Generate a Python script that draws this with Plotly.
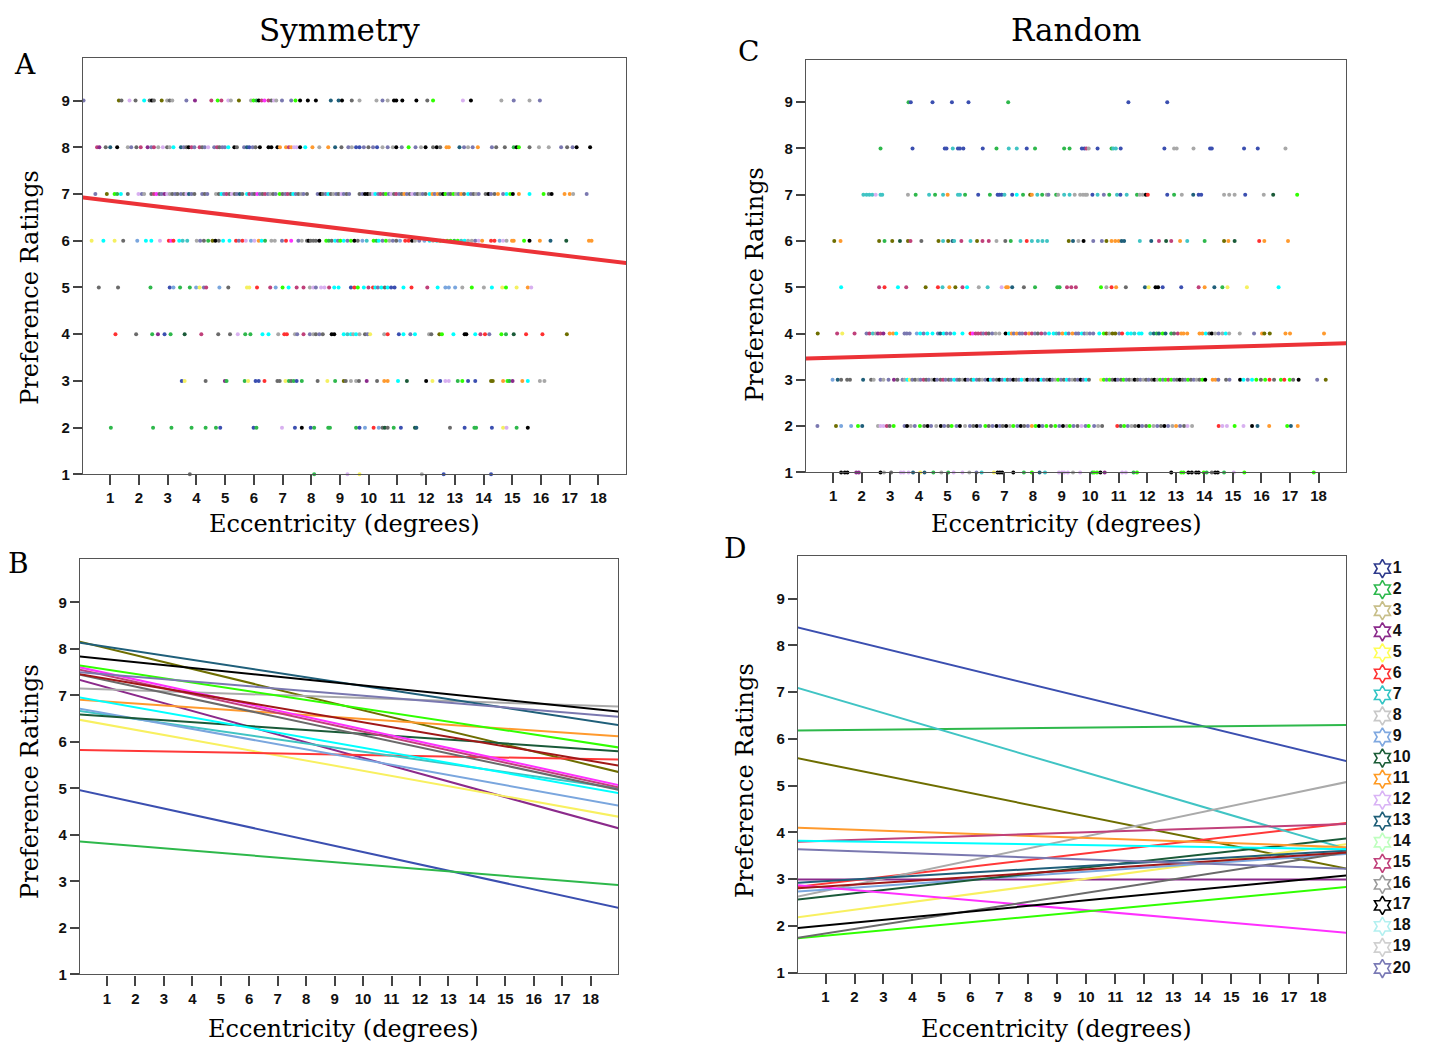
import plotly.graph_objects as go

IMG_W, IMG_H = 1432, 1053
PAD = 8                      # default page margin of the html body
W, H = IMG_W - 2 * PAD, IMG_H - 2 * PAD

# ---------------- data ----------------
subjects = [str(i) for i in range(1, 21)]
subject_rank = list(range(1, 21))
legend_colors = ['#2e3a8c', '#2db84d', '#c8bf8a', '#8b2a8b', '#ffff55', '#ff3333', '#33c4c4',
                 '#c8c8c8', '#7fa8e0', '#1a5c36', '#ff9a22', '#d9b3f5', '#1f5f78', '#bfffbf',
                 '#c0407a', '#9a9a9a', '#000000', '#b3f0f0', '#d0d0d0', '#7a7ab5']
line_colors = ['#3b4fb0', '#2eb84b', '#6e6e00', '#8b2a8b', '#f8f060', '#ff3838', '#40c4c4',
               '#aaaaaa', '#7aa6de', '#1a5a38', '#ff9a2e', '#ff30ff', '#1f5f7a', '#30ff00',
               '#c0407a', '#6a6a6a', '#000000', '#00ffff', '#a01818', '#7a78b0']

dot_palette = {'b': '#3b4fb0', 'g': '#2eb84b', 'o': '#6e6e00', 'p': '#8b2a8b', 'y': '#f5f060',
               'r': '#ff3030', 't': '#40c4c4', 'l': '#a8a8a8', 'L': '#7aa6de', 'd': '#1a5a38',
               'O': '#ff9a2e', 'v': '#d8b0f0', 'T': '#1f5f7a', 'G': '#30ff00', 'k': '#c0407a',
               'D': '#6a6a6a', 'K': '#000000', 'c': '#00ffff', 'm': '#ff30ff', 's': '#7a78b0'}

ecc_ticks = list(range(1, 19))
rating_ticks = list(range(1, 10))
fit_x = [0, 19]

# Per-subject regression lines: rating at left edge (0 deg) and right edge (19 deg)
B_start = [4.97, 3.86, 8.16, 7.34, 6.48, 5.83, 6.67, 7.15, 6.72, 6.59,
           6.91, 7.61, 8.14, 7.65, 7.56, 7.45, 7.84, 6.96, 7.46, 7.50]
B_end = [2.43, 2.92, 5.35, 4.14, 4.39, 5.62, 5.00, 6.76, 4.63, 5.80,
         6.12, 5.07, 6.36, 5.88, 5.02, 4.97, 6.65, 4.90, 5.49, 6.54]
D_start = [8.39, 6.18, 5.59, 2.99, 2.18, 2.83, 7.10, 2.62, 2.73, 2.56,
           4.10, 2.87, 2.92, 1.73, 3.80, 1.74, 1.95, 3.82, 2.80, 3.64]
D_end = [5.52, 6.30, 3.22, 2.99, 3.75, 4.20, 3.64, 5.08, 3.54, 3.87,
         3.68, 1.85, 3.61, 2.83, 4.18, 3.57, 3.08, 3.64, 3.57, 3.22]

# Overall regression lines
A_fit = [6.93, 5.52]
C_fit = [3.46, 3.79]

# Symmetry trials: (eccentricity, subject colour code) per rating level
A9 = [(0.07,'s'),(1.30,'o'),(1.39,'D'),(1.67,'v'),(1.88,'D'),(2.18,'c'),(2.37,'D'),(2.45,'K'),(2.52,'D'),(2.79,'o'),
      (2.98,'l'),(3.07,'D'),(3.16,'l'),(3.65,'s'),(3.95,'p'),(4.52,'k'),(4.74,'G'),(4.87,'k'),(5.11,'v'),(5.20,'l'),
      (5.48,'o'),(5.90,'l'),(5.99,'G'),(6.09,'g'),(6.17,'K'),(6.27,'k'),(6.37,'m'),(6.51,'k'),(6.61,'D'),(6.70,'v'),
      (6.78,'l'),(6.98,'s'),(7.30,'s'),(7.45,'G'),(7.61,'K'),(7.88,'K'),(8.16,'K'),(8.68,'T'),(8.95,'T'),(9.07,'K'),
      (9.41,'D'),(9.68,'l'),(10.27,'l'),(10.48,'s'),(10.66,'l'),(10.88,'K'),(10.96,'K'),(11.17,'K'),(11.66,'K'),
      (12.04,'D'),(12.24,'G'),(13.28,'v'),(13.56,'K'),(14.62,'l'),(15.05,'s'),(15.60,'l'),(15.96,'s')]
A8 = [(0.54,'k'),(0.62,'p'),(0.84,'D'),(1.00,'T'),(1.24,'K'),(1.61,'l'),(1.73,'s'),(1.91,'D'),(2.06,'k'),(2.30,'p'),
      (2.43,'s'),(2.52,'k'),(2.67,'l'),(2.83,'v'),(2.98,'D'),(3.07,'l'),(3.20,'c'),(3.46,'T'),(3.56,'s'),(3.65,'D'),
      (3.73,'K'),(3.83,'k'),(3.93,'s'),(4.11,'k'),(4.20,'D'),(4.29,'s'),(4.41,'v'),(4.62,'s'),(4.72,'k'),(4.80,'D'),
      (4.90,'s'),(4.99,'s'),(5.11,'c'),(5.32,'K'),(5.41,'D'),(5.66,'s'),(5.76,'T'),(5.84,'b'),(5.96,'s'),(6.06,'D'),
      (6.21,'K'),(6.51,'K'),(6.61,'K'),(6.82,'K'),(6.91,'O'),(7.12,'O'),(7.22,'k'),(7.30,'O'),(7.40,'v'),(7.49,'v'),
      (7.61,'K'),(7.79,'c'),(8.04,'O'),(8.28,'l'),(8.59,'O'),(8.83,'T'),(9.05,'D'),(9.29,'s'),(9.41,'l'),(9.56,'b'),
      (9.68,'b'),(9.83,'s'),(9.99,'D'),(10.15,'s'),(10.29,'b'),(10.48,'l'),(10.66,'s'),(10.84,'l'),(10.96,'K'),(11.15,'s'),
      (11.39,'G'),(11.63,'s'),(11.82,'l'),(11.98,'K'),(12.24,'D'),(12.37,'K'),(12.49,'D'),(12.71,'O'),(12.79,'O'),(13.16,'T'),
      (13.32,'s'),(13.46,'l'),(13.62,'s'),(13.80,'O'),(14.29,'s'),(14.44,'D'),(14.74,'D'),(15.05,'g'),(15.15,'K'),(15.23,'G'),
      (15.60,'D'),(15.93,'l'),(16.27,'l'),(16.70,'s'),(16.91,'D'),(17.10,'s'),(17.24,'K'),(17.71,'K')]
A7 = [(0.48,'s'),(0.88,'o'),(1.15,'G'),(1.24,'g'),(1.37,'c'),(1.61,'D'),(1.98,'v'),(2.10,'s'),(2.18,'l'),
      (2.43,'D'),(2.52,'k'),(2.61,'m'),(2.71,'D'),(2.79,'s'),(2.89,'p'),(2.98,'v'),(3.07,'l'),(3.16,'D'),(3.26,'s'),
      (3.34,'D'),(3.46,'s'),(3.56,'D'),(3.65,'v'),(3.74,'T'),(3.83,'s'),(3.93,'D'),(4.20,'s'),(4.29,'D'),(4.38,'s'),
      (4.68,'l'),(4.78,'D'),(4.87,'c'),(4.96,'s'),(5.05,'k'),(5.15,'D'),(5.23,'v'),(5.33,'D'),(5.41,'s'),(5.51,'T'),
      (5.60,'D'),(5.76,'c'),(5.84,'k'),(5.94,'s'),(6.02,'D'),(6.12,'m'),(6.21,'s'),(6.30,'D'),(6.39,'k'),(6.49,'s'),
      (6.57,'l'),(6.67,'D'),(6.76,'s'),(6.90,'G'),(7.00,'D'),(7.10,'s'),(7.18,'k'),(7.28,'D'),(7.37,'c'),(7.46,'s'),
      (7.55,'D'),(7.65,'l'),(7.73,'s'),(7.85,'D'),(8.22,'s'),(8.32,'K'),(8.40,'D'),(8.50,'s'),(8.59,'c'),(8.68,'D'),
      (8.77,'l'),(8.87,'s'),(8.95,'D'),(9.05,'v'),(9.13,'s'),(9.23,'D'),(9.32,'s'),(9.68,'D'),(9.78,'s'),(9.87,'K'),
      (9.96,'K'),(10.05,'D'),(10.15,'v'),(10.23,'c'),(10.33,'s'),(10.41,'k'),(10.51,'D'),(10.60,'G'),(10.70,'s'),(10.78,'v'),
      (10.88,'D'),(10.96,'k'),(11.06,'s'),(11.15,'D'),(11.24,'O'),(11.33,'s'),(11.43,'D'),(11.51,'v'),(11.61,'s'),(11.70,'D'),
      (11.79,'l'),(11.88,'s'),(11.98,'D'),(12.12,'c'),(12.22,'O'),(12.30,'s'),(12.40,'O'),(12.49,'D'),(12.59,'K'),(12.67,'G'),
      (12.77,'s'),(12.85,'D'),(12.95,'G'),(13.04,'l'),(13.13,'s'),(13.22,'O'),(13.32,'D'),(13.46,'c'),(13.56,'s'),(13.65,'D'),
      (13.74,'l'),(13.83,'s'),(14.07,'D'),(14.17,'K'),(14.26,'s'),(14.38,'D'),(14.50,'O'),(14.68,'s'),(14.80,'c'),(14.93,'G'),
      (15.02,'K'),(15.23,'O'),(15.60,'c'),(16.09,'G'),(16.27,'D'),(16.37,'K'),(16.82,'O'),(17.00,'O'),(17.12,'l'),(17.59,'s')]
A6 = [(0.35,'y'),(0.76,'c'),(1.15,'y'),(1.45,'D'),(1.94,'L'),(2.24,'c'),(2.43,'c'),(2.73,'v'),(3.04,'r'),(3.12,'m'),
      (3.20,'r'),(3.40,'c'),(3.52,'t'),(3.68,'t'),(4.01,'l'),(4.13,'s'),(4.26,'D'),(4.41,'g'),(4.56,'o'),(4.66,'K'),
      (4.78,'D'),(4.93,'c'),(5.15,'c'),(5.38,'r'),(5.48,'s'),(5.60,'r'),(5.72,'v'),(5.90,'L'),(6.02,'v'),(6.17,'O'),
      (6.27,'c'),(6.39,'g'),(6.61,'l'),(6.73,'l'),(6.98,'s'),(7.12,'r'),(7.30,'m'),(7.55,'s'),(7.67,'l'),(7.85,'D'),
      (7.91,'K'),(7.98,'D'),(8.07,'D'),(8.16,'D'),(8.28,'K'),(8.52,'G'),(8.61,'g'),(8.71,'D'),(8.83,'c'),(8.93,'s'),
      (9.01,'G'),(9.13,'c'),(9.26,'s'),(9.38,'G'),(9.50,'K'),(9.62,'D'),(9.78,'L'),(9.93,'t'),(10.17,'G'),(10.27,'g'),
      (10.35,'c'),(10.48,'s'),(10.60,'G'),(10.72,'l'),(10.84,'s'),(10.96,'D'),(11.09,'L'),(11.27,'r'),(11.39,'r'),(11.51,'K'),
      (11.61,'l'),(11.76,'s'),(11.94,'L'),(12.12,'c'),(12.24,'l'),(12.37,'c'),(12.49,'G'),(12.61,'l'),(12.73,'G'),(12.85,'G'),
      (12.98,'g'),(13.10,'G'),(13.22,'t'),(13.34,'c'),(13.46,'l'),(13.59,'l'),(13.71,'s'),(13.83,'v'),(13.95,'O'),(14.26,'r'),
      (14.38,'r'),(14.56,'L'),(14.68,'v'),(14.80,'l'),(14.99,'O'),(15.05,'O'),(15.41,'G'),(15.60,'K'),(15.96,'O'),(16.33,'T'),
      (16.88,'d'),(17.67,'O'),(17.76,'O')]
A5 = [(0.60,'D'),(1.27,'D'),(2.40,'g'),(3.07,'b'),(3.20,'L'),(3.43,'g'),(3.77,'g'),(3.99,'L'),(4.11,'y'),(4.26,'s'),
      (4.34,'k'),(4.80,'L'),(5.11,'D'),(5.76,'y'),(5.84,'y'),(6.11,'r'),(6.57,'k'),(6.76,'L'),(7.00,'G'),(7.21,'c'),
      (7.49,'k'),(7.73,'k'),(7.95,'l'),(8.07,'v'),(8.16,'s'),(8.34,'v'),(8.46,'v'),(8.62,'k'),(8.80,'c'),(8.95,'c'),
      (9.38,'b'),(9.50,'r'),(9.62,'G'),(9.83,'c'),(9.99,'k'),(10.15,'r'),(10.23,'c'),(10.32,'s'),(10.44,'c'),(10.56,'D'),
      (10.66,'c'),(10.78,'b'),(10.90,'b'),(11.21,'c'),(11.49,'r'),(12.04,'k'),(12.40,'c'),(12.67,'L'),(12.79,'L'),(13.01,'L'),
      (13.26,'l'),(13.59,'G'),(14.01,'l'),(14.29,'c'),(14.65,'y'),(14.78,'G'),(15.15,'y'),(15.54,'O'),(15.66,'v')]
A4 = [(1.18,'r'),(1.90,'D'),(2.46,'g'),(2.66,'p'),(2.89,'b'),(3.10,'g'),(3.59,'d'),(4.17,'k'),(4.76,'D'),(5.17,'D'),
      (5.44,'v'),(5.70,'g'),(5.88,'g'),(6.30,'c'),(6.51,'c'),(6.85,'l'),(7.06,'r'),(7.15,'r'),(7.43,'l'),(7.51,'s'),
      (7.73,'k'),(7.95,'s'),(8.07,'l'),(8.16,'D'),(8.28,'s'),(8.40,'D'),(8.71,'K'),(8.80,'K'),(9.13,'c'),(9.26,'t'),
      (9.38,'c'),(9.46,'l'),(9.56,'c'),(9.68,'l'),(9.87,'D'),(9.96,'s'),(10.05,'y'),(10.54,'l'),(10.66,'r'),(11.05,'b'),
      (11.21,'c'),(11.45,'s'),(11.61,'c'),(12.10,'l'),(12.18,'D'),(12.46,'o'),(12.55,'G'),(12.95,'c'),(13.34,'K'),(13.40,'K'),
      (13.71,'c'),(13.89,'k'),(14.05,'r'),(14.20,'s'),(14.62,'G'),(14.78,'g'),(15.05,'d'),(15.48,'r'),(16.05,'r'),(16.90,'o')]
A3 = [(3.49,'b'),(3.59,'y'),(4.32,'D'),(4.99,'p'),(5.05,'g'),(5.68,'g'),(5.80,'y'),(6.06,'b'),(6.17,'b'),(6.37,'r'),
      (6.82,'D'),(6.90,'D'),(7.10,'y'),(7.22,'g'),(7.30,'D'),(7.39,'g'),(7.49,'b'),(7.67,'g'),(8.22,'D'),(8.56,'y'),
      (8.83,'g'),(9.13,'o'),(9.20,'D'),(9.38,'l'),(9.56,'l'),(9.66,'D'),(9.93,'p'),(10.29,'D'),(10.54,'O'),(10.66,'O'),
      (11.02,'c'),(11.33,'d'),(12.00,'K'),(12.22,'y'),(12.49,'b'),(12.67,'v'),(12.79,'v'),(13.10,'g'),(13.26,'G'),(13.46,'b'),
      (13.71,'b'),(14.26,'o'),(14.32,'o'),(14.68,'O'),(14.83,'G'),(14.90,'g'),(15.01,'p'),(15.35,'O'),(15.54,'c'),(15.96,'l'),
      (16.12,'l')]
A2 = [(1.02,'g'),(2.49,'g'),(3.13,'g'),(3.83,'g'),(4.32,'g'),(4.68,'g'),(4.83,'b'),(5.99,'b'),(6.09,'g'),(6.98,'v'),
      (7.43,'b'),(7.67,'K'),(7.98,'b'),(8.10,'g'),(8.59,'g'),(8.65,'g'),(9.56,'g'),(9.68,'b'),(9.87,'L'),(10.17,'r'),
      (10.35,'L'),(10.48,'D'),(10.56,'d'),(10.66,'D'),(10.87,'g'),(11.12,'b'),(11.61,'d'),(11.66,'T'),(12.83,'D'),(13.34,'b'),
      (13.68,'g'),(13.74,'g'),(14.29,'b'),(14.68,'y'),(14.80,'v'),(15.15,'g'),(15.54,'K')]
A1 = [(3.77,'D'),(8.10,'g'),(9.26,'v'),(9.68,'y'),(11.85,'l'),(12.61,'b'),(14.26,'b')]

# Random trials
C9 = [(3.64,'g'),(3.72,'b'),(4.48,'b'),(5.16,'b'),(5.74,'b'),(7.13,'g'),(11.34,'b'),(12.70,'b')]
C8 = [(2.66,'g'),(3.78,'b'),(4.91,'b'),(4.97,'b'),(5.19,'t'),(5.37,'b'),(5.44,'b'),(5.56,'b'),(6.24,'b'),(6.72,'g'),
      (7.15,'t'),(7.43,'t'),(7.78,'b'),(8.07,'g'),(9.09,'g'),(9.28,'g'),(9.71,'b'),(9.80,'b'),(9.87,'k'),(9.95,'l'),
      (10.26,'b'),(10.75,'g'),(10.81,'t'),(10.90,'t'),(11.07,'b'),(12.60,'b'),(12.94,'l'),(13.03,'l'),(13.62,'l'),(14.20,'b'),
      (14.26,'b'),(15.39,'b'),(15.87,'b'),(16.84,'l')]
C7 = [(2.06,'t'),(2.17,'t'),(2.27,'t'),(2.37,'t'),(2.49,'v'),(2.66,'t'),(2.72,'t'),(3.62,'l'),(3.89,'g'),(4.36,'t'),
      (4.57,'g'),(4.85,'t'),(5.01,'O'),(5.37,'t'),(5.44,'t'),(5.62,'g'),(6.08,'b'),(6.49,'g'),(6.76,'b'),(6.82,'b'),
      (6.90,'b'),(7.00,'t'),(7.27,'b'),(7.43,'c'),(7.65,'g'),(7.90,'o'),(7.96,'O'),(8.15,'t'),(8.32,'g'),(8.48,'l'),
      (8.54,'s'),(8.81,'g'),(8.88,'l'),(9.09,'t'),(9.28,'t'),(9.46,'l'),(9.65,'l'),(9.75,'l'),(9.83,'l'),(9.89,'l'),
      (10.08,'b'),(10.26,'t'),(10.48,'s'),(10.67,'g'),(10.94,'t'),(11.06,'b'),(11.28,'t'),(11.64,'g'),(11.74,'l'),(11.84,'l'),
      (11.95,'K'),(12.02,'r'),(12.70,'b'),(12.94,'g'),(13.21,'l'),(13.61,'T'),(13.80,'b'),(13.89,'b'),(14.69,'l'),(14.87,'l'),
      (15.06,'l'),(15.43,'b'),(16.08,'l'),(16.41,'d'),(17.25,'G')]
C6 = [(1.04,'o'),(1.26,'O'),(2.61,'o'),(2.80,'g'),(3.07,'o'),(3.34,'d'),(3.62,'o'),(3.71,'k'),(4.09,'D'),(4.69,'o'),
      (4.85,'t'),(5.03,'o'),(5.18,'T'),(5.24,'t'),(5.49,'k'),(5.81,'t'),(6.04,'o'),(6.23,'k'),(6.45,'k'),(6.72,'l'),
      (7.03,'D'),(7.22,'g'),(7.56,'t'),(7.78,'r'),(7.96,'t'),(8.17,'t'),(8.33,'t'),(8.49,'t'),(9.25,'o'),(9.40,'T'),
      (9.59,'l'),(9.77,'K'),(10.11,'s'),(10.41,'s'),(10.57,'o'),(10.75,'O'),(10.88,'O'),(11.00,'O'),(11.10,'T'),(11.19,'T'),
      (11.74,'t'),(12.14,'T'),(12.41,'k'),(12.66,'d'),(12.84,'k'),(13.15,'O'),(13.40,'t'),(14.01,'g'),(14.69,'o'),(14.84,'O'),
      (15.06,'d'),(15.92,'r'),(16.10,'O'),(16.93,'O')]
C5 = [(1.28,'c'),(2.61,'k'),(2.80,'r'),(3.27,'c'),(3.56,'k'),(4.24,'o'),(4.67,'r'),(4.83,'t'),(5.07,'O'),(5.28,'o'),
      (5.53,'k'),(5.69,'c'),(6.10,'l'),(6.41,'t'),(6.90,'v'),(7.06,'O'),(7.12,'O'),(7.27,'T'),(7.68,'D'),(8.07,'g'),
      (8.85,'g'),(8.93,'g'),(9.19,'k'),(9.34,'k'),(9.50,'k'),(10.38,'G'),(10.57,'l'),(10.75,'r'),(10.91,'O'),(11.25,'D'),
      (11.92,'T'),(12.05,'y'),(12.29,'K'),(12.38,'K'),(12.54,'b'),(13.19,'b'),(13.80,'k'),(14.01,'O'),(14.35,'T'),(14.63,'g'),
      (14.81,'y'),(15.49,'y'),(16.60,'c')]
C4 = [(0.46,'o'),(1.14,'k'),(1.32,'y'),(1.75,'k'),(2.17,'s'),(2.27,'k'),(2.39,'t'),(2.49,'l'),(2.57,'p'),(2.66,'k'),
      (2.76,'p'),(2.98,'O'),(3.10,'O'),(3.21,'c'),(3.50,'s'),(3.58,'s'),(3.68,'s'),(3.93,'L'),(4.05,'c'),(4.17,'s'),
      (4.30,'c'),(4.48,'c'),(4.67,'s'),(4.75,'T'),(4.87,'c'),(4.97,'s'),(5.10,'s'),(5.24,'c'),(5.53,'c'),(5.81,'r'),
      (5.89,'m'),(5.99,'k'),(6.08,'k'),(6.18,'k'),(6.26,'s'),(6.36,'k'),(6.45,'D'),(6.57,'s'),(6.69,'l'),(6.82,'l'),
      (7.04,'K'),(7.16,'c'),(7.25,'O'),(7.33,'s'),(7.43,'O'),(7.53,'s'),(7.62,'s'),(7.74,'k'),(7.86,'O'),(7.96,'k'),
      (8.07,'s'),(8.17,'D'),(8.29,'k'),(8.42,'s'),(8.56,'c'),(8.72,'c'),(8.82,'t'),(8.91,'s'),(9.03,'O'),(9.15,'c'),
      (9.25,'s'),(9.38,'O'),(9.50,'s'),(9.59,'s'),(9.71,'c'),(9.80,'s'),(9.89,'l'),(9.99,'s'),(10.11,'s'),(10.32,'c'),
      (10.48,'G'),(10.57,'o'),(10.67,'l'),(10.78,'o'),(10.88,'o'),(11.02,'s'),(11.12,'r'),(11.31,'c'),(11.43,'c'),(11.55,'t'),
      (11.71,'c'),(11.80,'c'),(12.11,'t'),(12.23,'T'),(12.33,'g'),(12.41,'T'),(12.54,'G'),(12.64,'T'),(12.84,'g'),(12.94,'D'),
      (13.07,'k'),(13.19,'O'),(13.27,'O'),(13.40,'O'),(13.83,'O'),(13.93,'O'),(14.05,'c'),(14.17,'D'),(14.26,'K'),(14.38,'l'),
      (14.50,'s'),(14.63,'l'),(14.75,'c'),(14.87,'l'),(15.24,'l'),(15.74,'s'),(16.02,'O'),(16.10,'o'),(16.29,'o'),(16.84,'O'),
      (17.00,'O'),(18.19,'O')]
C3 = [(0.98,'L'),(1.16,'T'),(1.28,'D'),(1.49,'D'),(1.59,'D'),(2.05,'T'),(2.33,'D'),(2.42,'l'),(2.66,'s'),(2.76,'l'),
      (2.94,'s'),(3.13,'p'),(3.25,'D'),(3.43,'s'),(3.50,'l'),(3.60,'c'),(3.68,'y'),(3.77,'s'),(3.87,'D'),(3.98,'l'),
      (4.06,'s'),(4.17,'k'),(4.26,'D'),(4.35,'s'),(4.46,'l'),(4.55,'K'),(4.64,'s'),(4.76,'D'),(4.85,'k'),(4.94,'s'),
      (5.05,'D'),(5.13,'s'),(5.24,'c'),(5.34,'s'),(5.42,'D'),(5.53,'l'),(5.63,'K'),(5.72,'s'),(5.84,'D'),(5.92,'c'),
      (6.03,'s'),(6.12,'D'),(6.22,'l'),(6.33,'s'),(6.43,'K'),(6.52,'c'),(6.61,'s'),(6.73,'D'),(6.82,'K'),(6.92,'s'),
      (7.02,'c'),(7.11,'D'),(7.20,'s'),(7.31,'K'),(7.41,'D'),(7.51,'s'),(7.60,'c'),(7.71,'l'),(7.80,'K'),(7.90,'s'),
      (8.00,'D'),(8.10,'s'),(8.19,'K'),(8.29,'c'),(8.38,'s'),(8.49,'D'),(8.59,'K'),(8.68,'s'),(8.78,'l'),(8.88,'G'),
      (8.98,'s'),(9.08,'D'),(9.18,'c'),(9.27,'s'),(9.37,'l'),(9.47,'D'),(9.57,'s'),(9.67,'K'),(9.76,'s'),(9.86,'c'),
      (9.96,'D'),(10.38,'y'),(10.48,'G'),(10.58,'s'),(10.68,'G'),(10.78,'D'),(10.88,'K'),(10.97,'s'),(11.08,'D'),(11.17,'G'),
      (11.27,'s'),(11.37,'D'),(11.47,'l'),(11.56,'K'),(11.66,'D'),(11.76,'s'),(11.86,'l'),(11.96,'D'),(12.05,'s'),(12.16,'D'),
      (12.25,'K'),(12.35,'l'),(12.45,'G'),(12.55,'s'),(12.64,'G'),(12.74,'k'),(12.84,'G'),(12.94,'s'),(13.04,'D'),(13.14,'K'),
      (13.24,'D'),(13.33,'s'),(13.43,'G'),(13.53,'D'),(13.63,'s'),(13.73,'l'),(13.83,'D'),(13.93,'G'),(14.03,'K'),(14.29,'O'),
      (14.39,'O'),(14.49,'s'),(14.76,'D'),(14.88,'s'),(15.25,'K'),(15.37,'c'),(15.52,'s'),(15.67,'c'),(15.82,'G'),(15.98,'D'),
      (16.13,'G'),(16.28,'r'),(16.44,'D'),(16.68,'G'),(16.80,'r'),(16.99,'G'),(17.11,'D'),(17.30,'K'),(17.95,'s'),(18.25,'o')]
C2 = [(0.45,'s'),(1.10,'o'),(1.28,'L'),(1.63,'L'),(1.87,'G'),(2.02,'T'),(2.57,'l'),(2.66,'v'),(2.76,'v'),(2.88,'k'),
      (2.98,'D'),(3.12,'G'),(3.50,'s'),(3.59,'K'),(3.72,'l'),(3.86,'s'),(4.04,'G'),(4.19,'D'),(4.31,'K'),(4.43,'s'),
      (4.61,'l'),(4.77,'K'),(4.89,'s'),(5.03,'D'),(5.15,'G'),(5.32,'s'),(5.44,'K'),(5.62,'l'),(5.79,'s'),(5.91,'D'),
      (6.03,'K'),(6.15,'s'),(6.33,'G'),(6.45,'D'),(6.58,'s'),(6.72,'K'),(6.84,'s'),(6.94,'D'),(7.06,'K'),(7.19,'l'),
      (7.31,'G'),(7.45,'s'),(7.57,'K'),(7.69,'D'),(7.82,'s'),(7.96,'O'),(8.09,'G'),(8.21,'K'),(8.33,'s'),(8.47,'G'),
      (8.63,'D'),(8.78,'G'),(8.92,'s'),(9.05,'K'),(9.18,'l'),(9.29,'G'),(9.42,'s'),(9.56,'D'),(9.70,'v'),(9.84,'s'),
      (9.95,'G'),(10.14,'s'),(10.28,'l'),(10.42,'D'),(10.95,'r'),(11.07,'D'),(11.19,'G'),(11.32,'s'),(11.45,'l'),(11.57,'D'),
      (11.70,'K'),(11.82,'s'),(11.96,'D'),(12.08,'G'),(12.22,'l'),(12.35,'s'),(12.48,'D'),(12.60,'K'),(12.73,'s'),(12.88,'l'),
      (13.01,'O'),(13.15,'s'),(13.29,'D'),(13.41,'v'),(13.57,'l'),(14.50,'r'),(14.63,'v'),(14.79,'v'),(15.06,'G'),(15.37,'v'),
      (15.67,'K'),(15.86,'T'),(16.27,'O'),(16.90,'G'),(17.03,'T'),(17.27,'O')]
C1 = [(1.28,'K'),(1.41,'K'),(1.50,'K'),(1.81,'p'),(1.90,'p'),(2.66,'K'),(2.78,'l'),(3.03,'D'),(3.37,'v'),(3.47,'v'),
      (3.64,'v'),(3.80,'T'),(4.05,'y'),(4.20,'T'),(4.51,'g'),(4.79,'l'),(5.03,'g'),(5.22,'v'),(5.53,'v'),(5.77,'l'),
      (6.02,'s'),(6.20,'t'),(6.63,'y'),(6.76,'K'),(6.84,'K'),(6.92,'K'),(7.31,'K'),(7.68,'g'),(7.96,'G'),(8.23,'T'),
      (8.42,'t'),(8.91,'v'),(9.01,'v'),(9.09,'v'),(9.22,'v'),(9.40,'l'),(9.65,'v'),(10.08,'g'),(10.14,'G'),(10.24,'G'),
      (10.36,'K'),(10.51,'p'),(11.12,'v'),(11.25,'v'),(11.52,'g'),(11.64,'G'),(12.84,'K'),(13.19,'G'),(13.27,'G'),(13.44,'K'),
      (13.56,'K'),(13.71,'K'),(13.80,'K'),(13.98,'G'),(14.08,'g'),(14.26,'D'),(14.38,'K'),(14.47,'K'),(14.69,'g'),(15.03,'v'),
      (15.40,'G'),(17.83,'G')]

A_rows = {9: A9, 8: A8, 7: A7, 6: A6, 5: A5, 4: A4, 3: A3, 2: A2, 1: A1}
C_rows = {9: C9, 8: C8, 7: C7, 6: C6, 5: C5, 4: C4, 3: C3, 2: C2, 1: C1}

# ---------------- figure ----------------
SERIF = 'DejaVu Serif'
TICKF = dict(family='Liberation Sans Narrow, Arial Narrow, Liberation Sans, Arial', size=15,
             color='#111111', weight='bold')


def px(x):
    return (x - PAD) / W


def py(y):
    return 1 - (y - PAD) / H


fig = go.Figure()


def dots(rows, xa, ya):
    xs, ys, cs = [], [], []
    for rating, pts in rows.items():
        for x, code in pts:
            xs.append(x)
            ys.append(rating)
            cs.append(dot_palette[code])
    fig.add_trace(go.Scatter(x=xs, y=ys, mode='markers', xaxis=xa, yaxis=ya, showlegend=False,
                             cliponaxis=False, hoverinfo='skip',
                             marker=dict(size=4, color=cs, line=dict(width=0))))


dots(A_rows, 'x', 'y')
dots(C_rows, 'x2', 'y2')

fig.add_trace(go.Scatter(x=fit_x, y=A_fit, mode='lines', xaxis='x', yaxis='y', showlegend=False,
                         line=dict(color='#ec3237', width=4)))
fig.add_trace(go.Scatter(x=fit_x, y=C_fit, mode='lines', xaxis='x2', yaxis='y2', showlegend=False,
                         line=dict(color='#ec3237', width=4)))

for i in range(20):
    fig.add_trace(go.Scatter(x=fit_x, y=[B_start[i], B_end[i]], mode='lines', xaxis='x3', yaxis='y3',
                             showlegend=False, line=dict(color=line_colors[i], width=2)))
    fig.add_trace(go.Scatter(x=fit_x, y=[D_start[i], D_end[i]], mode='lines', xaxis='x4', yaxis='y4',
                             showlegend=False, line=dict(color=line_colors[i], width=2)))

# subject key (drawn in its own small axes)
fig.add_trace(go.Scatter(x=[0] * len(subjects), y=subject_rank, mode='markers', xaxis='x5', yaxis='y5',
                         showlegend=False, cliponaxis=False, hoverinfo='skip',
                         marker=dict(symbol='hexagram-open', size=14, color=legend_colors,
                                     line=dict(width=1.6, color=legend_colors))))
fig.add_trace(go.Scatter(x=[0.25] * len(subjects), y=subject_rank, mode='text', text=subjects,
                         textposition='middle right', xaxis='x5', yaxis='y5', showlegend=False,
                         cliponaxis=False, hoverinfo='skip',
                         textfont=dict(family='Liberation Sans, Arial', size=16, color='#111111',
                                       weight='bold')))


def xaxis(dom, anchor):
    return dict(domain=dom, anchor=anchor, range=[0.05, 18.96], tickmode='array', tickvals=ecc_ticks,
                ticks='outside', ticklen=10, tickwidth=1.5, tickcolor='#444444', tickfont=TICKF,
                showline=True, linecolor='#555555', linewidth=1.2, mirror=True,
                showgrid=False, zeroline=False, fixedrange=True)


def yaxis(dom, anchor, top):
    return dict(domain=dom, anchor=anchor, range=[1, top], tickmode='array', tickvals=rating_ticks,
                ticks='outside', ticklen=9, tickwidth=1.5, tickcolor='#444444', tickfont=TICKF,
                showline=True, linecolor='#555555', linewidth=1.2, mirror=True,
                showgrid=False, zeroline=False, fixedrange=True)


hidden = dict(visible=False, showgrid=False, zeroline=False, fixedrange=True)

fig.update_layout(
    width=W, height=H, margin=dict(l=0, r=0, t=0, b=0),
    paper_bgcolor='white', plot_bgcolor='white', showlegend=False,
    xaxis=xaxis([px(83), px(626)], 'y'), yaxis=yaxis([py(478), py(58)], 'x', 9.92),
    xaxis2=xaxis([px(806), px(1346)], 'y2'), yaxis2=yaxis([py(476), py(60)], 'x2', 9.92),
    xaxis3=xaxis([px(80), px(618)], 'y3'), yaxis3=yaxis([py(982), py(563)], 'x3', 9.94),
    xaxis4=xaxis([px(798), px(1346)], 'y4'), yaxis4=yaxis([py(980), py(560)], 'x4', 9.92),
    xaxis5=dict(domain=[px(1377), px(1424)], anchor='y5', range=[-0.13, 1], **hidden),
    yaxis5=dict(domain=[py(976), py(573)], anchor='x5', range=[20, 1], **hidden),
)

annotations = []


def ann(text, x, y, size, angle=0):
    annotations.append(dict(text=text, x=px(x), y=py(y), xref='paper', yref='paper',
                            xanchor='center', yanchor='middle', showarrow=False, textangle=angle,
                            font=dict(family=SERIF, size=size, color='#000000')))


ann('Symmetry', 339, 30, 31)
ann('Random', 1076, 30, 31)
ann('A', 25, 65, 28)
ann('C', 748, 52, 28)
ann('B', 18, 568, 28)
ann('D', 735, 553, 28)
for (x, y) in [(344, 528), (343, 1037), (1066, 528), (1056, 1037)]:
    ann('Eccentricity (degrees)', x, y, 24)
for (x, y) in [(30, 290), (30, 788), (755, 287), (745, 787)]:
    ann('Preference Ratings', x, y, 24, -90)

fig.update_layout(annotations=annotations)

fig.write_html('out.html')
